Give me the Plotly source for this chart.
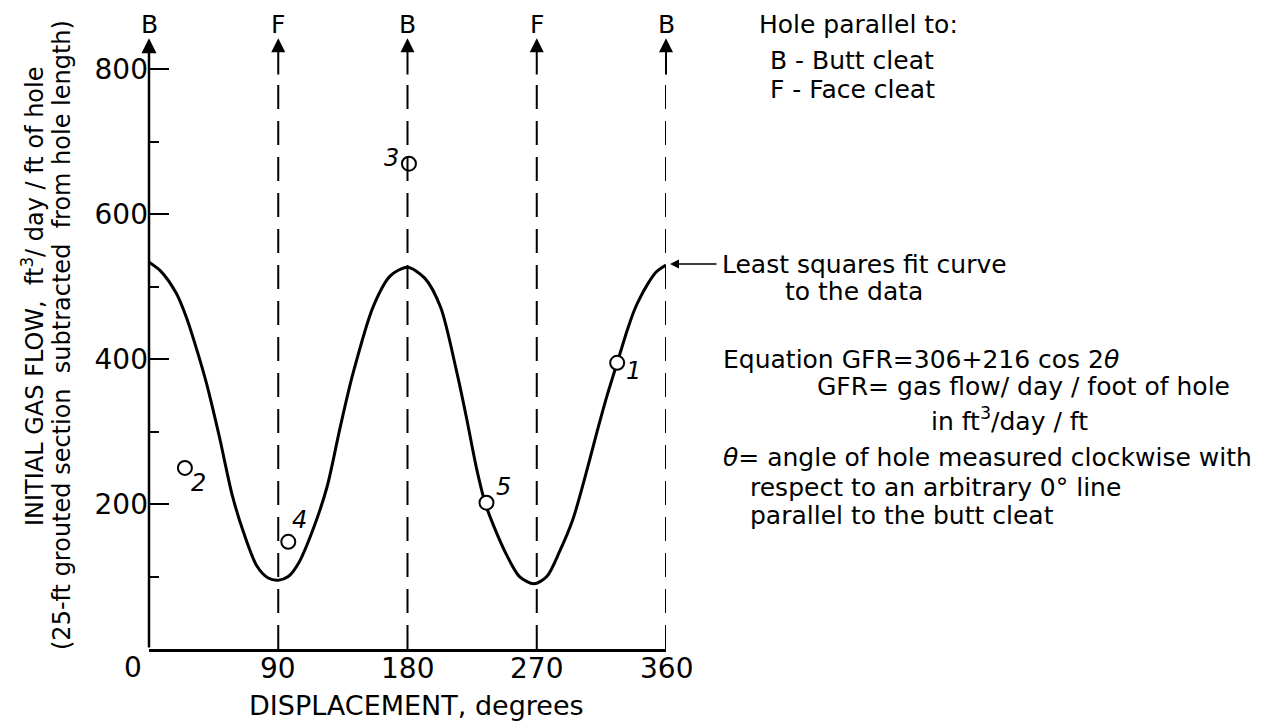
import plotly.graph_objects as go

# Least-squares fit curve
fit_theta = [0, 8, 19, 26, 33, 40, 49, 58, 66, 75, 83, 90, 97, 104, 114, 124, 133, 142, 156, 168, 180,
             192, 203, 214, 221, 228, 234, 240, 249, 258, 268, 277, 286, 295, 304, 312, 319, 326,
             333, 338, 342, 347, 353, 360]
fit_gfr = [534, 522, 491, 458, 415, 367, 293, 212, 160, 115, 98, 95, 100, 118, 164, 224, 305, 380, 472, 515, 527,
           512, 472, 385, 320, 250, 202, 170, 130, 100, 90, 100, 135, 178, 240, 300, 350, 395,
           440, 468, 485, 503, 520, 530]

# Measured holes
hole_theta = [326, 25, 181, 97, 235]
hole_gfr = [395, 250, 670, 148, 202]
hole_labels = ["1", "2", "3", "4", "5"]
# label offsets in pixels (dx, dy up)
hole_label_shift = [(16, -8), (14, -15), (-17, 6), (11, 22), (17, 16)]

# Cleat directions
cleat_theta = [0, 90, 180, 270, 360]
cleat_labels = ["B", "F", "B", "F", "B"]

x_ticks = [90, 180, 270, 360]
y_ticks = [200, 400, 600, 800]
y_minor = [100, 300, 500, 700]

FONT = "DejaVu Sans"
ARROW_TOP = 843
SOLID_FROM = 791
Y_MAX = 860

# plot area in pixels
L, T, W, H = 149, 26, 517, 623


def px(x):
    return (x - L) / W


def py(y):
    return 1 - (y - T) / H


fig = go.Figure()

fig.add_trace(go.Scatter(
    x=fit_theta, y=fit_gfr, mode="lines",
    line=dict(color="black", width=3, shape="spline", smoothing=0.8),
    hoverinfo="skip", showlegend=False, cliponaxis=False))

fig.add_trace(go.Scatter(
    x=hole_theta, y=hole_gfr, mode="markers",
    marker=dict(symbol="circle", size=14, color="white", line=dict(color="black", width=2)),
    showlegend=False, cliponaxis=False))

shapes = []
annotations = []

# dashed cleat lines
for t in cleat_theta[1:]:
    shapes.append(dict(type="line", xref="x", yref="y", x0=t, x1=t, y0=0, y1=SOLID_FROM,
                       line=dict(color="black", width=2, dash="24px,12px")))

# arrows at the top
for t, lab in zip(cleat_theta, cleat_labels):
    tail = 0 if t == 0 else SOLID_FROM
    annotations.append(dict(x=t, y=ARROW_TOP, xref="x", yref="y", ax=t, ay=tail,
                            axref="x", ayref="y", text="", showarrow=True,
                            arrowhead=2, arrowsize=1.4 if t else 1.2,
                            arrowwidth=2.5 if t == 0 else 2, arrowcolor="black"))
    annotations.append(dict(x=t, y=py(24), xref="x", yref="paper", text=lab,
                            showarrow=False, font=dict(family=FONT, size=25, color="black"),
                            xanchor="center", yanchor="middle"))

# hole labels
for t, g, lab, (dx, dy) in zip(hole_theta, hole_gfr, hole_labels, hole_label_shift):
    annotations.append(dict(x=t, y=g, xref="x", yref="y", text=lab, showarrow=False,
                            xshift=dx, yshift=dy,
                            font=dict(family=FONT, size=24, color="black", style="italic")))

# x tick labels and the shared corner zero
for t in x_ticks:
    annotations.append(dict(x=t, y=py(668), xref="x", yref="paper", text=str(t),
                            showarrow=False, font=dict(family=FONT, size=28, color="black"),
                            xanchor="center", yanchor="middle"))
annotations.append(dict(x=px(133), y=py(667), xref="paper", yref="paper", text="0",
                        showarrow=False, font=dict(family=FONT, size=28, color="black"),
                        xanchor="center", yanchor="middle"))

# axis titles
annotations.append(dict(x=px(416), y=py(705), xref="paper", yref="paper",
                        text="DISPLACEMENT, degrees", showarrow=False,
                        font=dict(family=FONT, size=27, color="black"),
                        xanchor="center", yanchor="middle"))
annotations.append(dict(x=px(33), y=py(297), xref="paper", yref="paper",
                        text="INITIAL GAS FLOW,  ft<sup>3</sup>/ day / ft of hole",
                        textangle=-90, showarrow=False,
                        font=dict(family=FONT, size=24, color="black"),
                        xanchor="center", yanchor="middle"))
annotations.append(dict(x=px(62), y=py(335), xref="paper", yref="paper",
                        text="(25-ft grouted section  subtracted  from hole length)",
                        textangle=-90, showarrow=False,
                        font=dict(family=FONT, size=24, color="black"),
                        xanchor="center", yanchor="middle"))

# notes on the right
notes = [
    (757, 24, "Hole parallel to:"),
    (768, 60, "B - Butt cleat"),
    (768, 89, "F - Face cleat"),
    (720, 264, "Least squares fit curve"),
    (783, 292, "to the data"),
    (721, 359, "Equation GFR=306+216 cos 2<i>θ</i>"),
    (815, 386, "GFR= gas flow/ day / foot of hole"),
    (929, 419, "in ft<sup>3</sup>/day / ft"),
    (721, 458, "<i>θ</i>= angle of hole measured clockwise with"),
    (748, 487, "respect to an arbitrary 0° line"),
    (748, 515, "parallel to the butt cleat"),
]
for x0, y0, txt in notes:
    annotations.append(dict(x=px(x0), y=py(y0), xref="paper", yref="paper", text=txt,
                            showarrow=False, font=dict(family=FONT, size=25, color="black"),
                            xanchor="left", yanchor="middle", align="left"))

# pointer to the fit curve
annotations.append(dict(x=px(670), y=py(264), xref="paper", yref="paper", text="",
                        ax=48, ay=0, showarrow=True, arrowhead=2, arrowsize=1.2,
                        arrowwidth=1.5, arrowcolor="black"))

fig.update_layout(
    width=1261, height=723,
    margin=dict(l=L, r=1261 - L - W, t=T, b=723 - T - H),
    paper_bgcolor="white", plot_bgcolor="white",
    showlegend=False,
    shapes=shapes, annotations=annotations,
    xaxis=dict(range=[0, 360], tickvals=x_ticks, showticklabels=False,
               showgrid=False, zeroline=False, showline=True, linecolor="black", linewidth=2.5,
               ticks=""),
    yaxis=dict(range=[0, Y_MAX], tickvals=y_ticks, ticktext=[str(v) for v in y_ticks],
               showgrid=False, zeroline=False, showline=False,
               ticks="inside", ticklen=20, tickwidth=2, tickcolor="black",
               tickfont=dict(family=FONT, size=28, color="black"),
               minor=dict(tickvals=y_minor, ticks="inside", ticklen=10, tickwidth=2,
                          tickcolor="black", showgrid=False)),
)

fig.write_html("out.html")
